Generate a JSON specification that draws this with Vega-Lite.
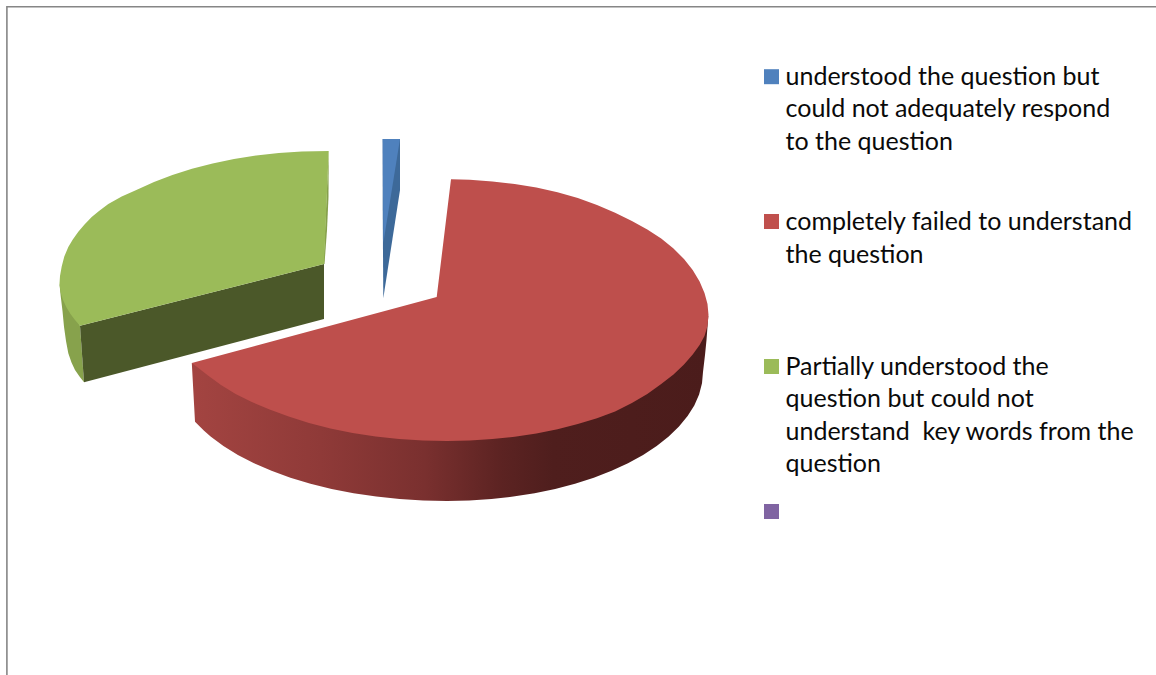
{
  "$schema": "https://vega.github.io/schema/vega-lite/v6.json",
  "width": 1156,
  "height": 675,
  "autosize": {"type": "none"},
  "padding": 0,
  "background": "#ffffff",
  "config": {"view": {"stroke": null}},
  "datasets": {
    "frame": [
      {"seq": 1, "x": 6.9, "y": 675},
      {"seq": 2, "x": 6.9, "y": 6.7},
      {"seq": 3, "x": 1156, "y": 6.7}
    ],
    "redWall": [
      {"seq": 1, "x": 191.8, "y": 363}, {"seq": 2, "x": 447, "y": 400}, {"seq": 3, "x": 708.3, "y": 316},
      {"seq": 4, "x": 706.5, "y": 340}, {"seq": 5, "x": 705, "y": 355}, {"seq": 6, "x": 703, "y": 372},
      {"seq": 7, "x": 702, "y": 383.2}, {"seq": 8, "x": 699.1, "y": 394.4}, {"seq": 9, "x": 694.3, "y": 405.4},
      {"seq": 10, "x": 687.6, "y": 416.1}, {"seq": 11, "x": 679, "y": 426.5}, {"seq": 12, "x": 668.7, "y": 436.5},
      {"seq": 13, "x": 656.7, "y": 446}, {"seq": 14, "x": 643.1, "y": 454.9}, {"seq": 15, "x": 628, "y": 463.2},
      {"seq": 16, "x": 611.6, "y": 470.8}, {"seq": 17, "x": 593.8, "y": 477.7}, {"seq": 18, "x": 575, "y": 483.7},
      {"seq": 19, "x": 555.2, "y": 488.9}, {"seq": 20, "x": 534.6, "y": 493.2}, {"seq": 21, "x": 513.3, "y": 496.6},
      {"seq": 22, "x": 491.5, "y": 499}, {"seq": 23, "x": 469.3, "y": 500.5}, {"seq": 24, "x": 447, "y": 501},
      {"seq": 25, "x": 423.2, "y": 500.5}, {"seq": 26, "x": 399.6, "y": 499}, {"seq": 27, "x": 376.3, "y": 496.6},
      {"seq": 28, "x": 353.6, "y": 493.2}, {"seq": 29, "x": 331.6, "y": 488.9}, {"seq": 30, "x": 310.5, "y": 483.7},
      {"seq": 31, "x": 290.4, "y": 477.7}, {"seq": 32, "x": 271.5, "y": 470.8}, {"seq": 33, "x": 254, "y": 463.2},
      {"seq": 34, "x": 237.9, "y": 454.9}, {"seq": 35, "x": 223.4, "y": 446}, {"seq": 36, "x": 210.6, "y": 436.5},
      {"seq": 37, "x": 203.8, "y": 430.6}, {"seq": 38, "x": 195, "y": 421.7}
    ],
    "faces": [
      {"part": "green wall", "seq": 1, "x": 59.5, "y": 284}, {"part": "green wall", "seq": 2, "x": 60.7, "y": 296},
      {"part": "green wall", "seq": 3, "x": 62.5, "y": 311}, {"part": "green wall", "seq": 4, "x": 64, "y": 326.7},
      {"part": "green wall", "seq": 5, "x": 66, "y": 341}, {"part": "green wall", "seq": 6, "x": 68.3, "y": 353.3},
      {"part": "green wall", "seq": 7, "x": 71.5, "y": 362.5}, {"part": "green wall", "seq": 8, "x": 75, "y": 370},
      {"part": "green wall", "seq": 9, "x": 79.5, "y": 376.5}, {"part": "green wall", "seq": 10, "x": 84, "y": 382.3},
      {"part": "green wall", "seq": 11, "x": 80, "y": 325.7},

      {"part": "green cut", "seq": 1, "x": 324, "y": 264}, {"part": "green cut", "seq": 2, "x": 80, "y": 325.7},
      {"part": "green cut", "seq": 3, "x": 84, "y": 382.3}, {"part": "green cut", "seq": 4, "x": 324, "y": 319},

      {"part": "green edge", "seq": 1, "x": 328.7, "y": 151}, {"part": "green edge", "seq": 2, "x": 328.5, "y": 197},
      {"part": "green edge", "seq": 3, "x": 327, "y": 230}, {"part": "green edge", "seq": 4, "x": 324.5, "y": 264},
      {"part": "green edge", "seq": 5, "x": 323.5, "y": 264},

      {"part": "green top", "seq": 1, "x": 324, "y": 264}, {"part": "green top", "seq": 2, "x": 80, "y": 325.7},
      {"part": "green top", "seq": 3, "x": 75, "y": 320}, {"part": "green top", "seq": 4, "x": 70.5, "y": 314},
      {"part": "green top", "seq": 5, "x": 66.5, "y": 307.5}, {"part": "green top", "seq": 6, "x": 63, "y": 300},
      {"part": "green top", "seq": 7, "x": 60.5, "y": 292}, {"part": "green top", "seq": 8, "x": 59.5, "y": 284},
      {"part": "green top", "seq": 9, "x": 60, "y": 276}, {"part": "green top", "seq": 10, "x": 61.7, "y": 266.5},
      {"part": "green top", "seq": 11, "x": 64.3, "y": 256.5}, {"part": "green top", "seq": 12, "x": 68.3, "y": 247},
      {"part": "green top", "seq": 13, "x": 72.8, "y": 239.5}, {"part": "green top", "seq": 14, "x": 78.3, "y": 231.7},
      {"part": "green top", "seq": 15, "x": 84.5, "y": 224.5}, {"part": "green top", "seq": 16, "x": 91.7, "y": 217},
      {"part": "green top", "seq": 17, "x": 99, "y": 211}, {"part": "green top", "seq": 18, "x": 108.3, "y": 204},
      {"part": "green top", "seq": 19, "x": 121.7, "y": 196.5}, {"part": "green top", "seq": 20, "x": 136.9, "y": 189.7},
      {"part": "green top", "seq": 21, "x": 154, "y": 181.9}, {"part": "green top", "seq": 22, "x": 172.4, "y": 174.9},
      {"part": "green top", "seq": 23, "x": 192, "y": 168.7}, {"part": "green top", "seq": 24, "x": 212.6, "y": 163.4},
      {"part": "green top", "seq": 25, "x": 234, "y": 159}, {"part": "green top", "seq": 26, "x": 256.2, "y": 155.5},
      {"part": "green top", "seq": 27, "x": 278.8, "y": 153}, {"part": "green top", "seq": 28, "x": 301.8, "y": 151.5},
      {"part": "green top", "seq": 29, "x": 328.7, "y": 151},

      {"part": "blue wall", "seq": 1, "x": 382.7, "y": 139}, {"part": "blue wall", "seq": 2, "x": 400, "y": 139},
      {"part": "blue wall", "seq": 3, "x": 400, "y": 190}, {"part": "blue wall", "seq": 4, "x": 383.3, "y": 298.3},
      {"part": "blue wall", "seq": 5, "x": 382.7, "y": 207},

      {"part": "blue top", "seq": 1, "x": 382.7, "y": 139}, {"part": "blue top", "seq": 2, "x": 400, "y": 139},
      {"part": "blue top", "seq": 3, "x": 383.3, "y": 243},

      {"part": "red top", "seq": 1, "x": 436.7, "y": 297}, {"part": "red top", "seq": 2, "x": 451, "y": 179.2},
      {"part": "red top", "seq": 3, "x": 469.8, "y": 179.8}, {"part": "red top", "seq": 4, "x": 492.4, "y": 181.5},
      {"part": "red top", "seq": 5, "x": 514.7, "y": 184}, {"part": "red top", "seq": 6, "x": 536.4, "y": 187.6},
      {"part": "red top", "seq": 7, "x": 557.5, "y": 192.2}, {"part": "red top", "seq": 8, "x": 577.8, "y": 198},
      {"part": "red top", "seq": 9, "x": 597, "y": 205}, {"part": "red top", "seq": 10, "x": 615.1, "y": 212.8},
      {"part": "red top", "seq": 11, "x": 631.9, "y": 221}, {"part": "red top", "seq": 12, "x": 647.3, "y": 229.5},
      {"part": "red top", "seq": 13, "x": 661.2, "y": 238.5}, {"part": "red top", "seq": 14, "x": 673.5, "y": 248.5},
      {"part": "red top", "seq": 15, "x": 684, "y": 259}, {"part": "red top", "seq": 16, "x": 692.7, "y": 270},
      {"part": "red top", "seq": 17, "x": 699.6, "y": 281.5}, {"part": "red top", "seq": 18, "x": 704.5, "y": 293},
      {"part": "red top", "seq": 19, "x": 707.5, "y": 304}, {"part": "red top", "seq": 20, "x": 708.5, "y": 315},
      {"part": "red top", "seq": 21, "x": 707.5, "y": 326}, {"part": "red top", "seq": 22, "x": 704.5, "y": 336},
      {"part": "red top", "seq": 23, "x": 699.6, "y": 345}, {"part": "red top", "seq": 24, "x": 692.7, "y": 354.5},
      {"part": "red top", "seq": 25, "x": 684, "y": 364.5}, {"part": "red top", "seq": 26, "x": 673.5, "y": 374.5},
      {"part": "red top", "seq": 27, "x": 661.2, "y": 384}, {"part": "red top", "seq": 28, "x": 647.3, "y": 394},
      {"part": "red top", "seq": 29, "x": 631.9, "y": 403}, {"part": "red top", "seq": 30, "x": 615.1, "y": 411.5},
      {"part": "red top", "seq": 31, "x": 597, "y": 418.2}, {"part": "red top", "seq": 32, "x": 577.8, "y": 424.1},
      {"part": "red top", "seq": 33, "x": 557.5, "y": 429.2}, {"part": "red top", "seq": 34, "x": 536.4, "y": 433.4},
      {"part": "red top", "seq": 35, "x": 514.7, "y": 436.7}, {"part": "red top", "seq": 36, "x": 492.4, "y": 439.1},
      {"part": "red top", "seq": 37, "x": 469.8, "y": 440.5}, {"part": "red top", "seq": 38, "x": 447, "y": 441},
      {"part": "red top", "seq": 39, "x": 423, "y": 440.5}, {"part": "red top", "seq": 40, "x": 399, "y": 439},
      {"part": "red top", "seq": 41, "x": 375.6, "y": 436.5}, {"part": "red top", "seq": 42, "x": 352.6, "y": 433},
      {"part": "red top", "seq": 43, "x": 330.4, "y": 428.5}, {"part": "red top", "seq": 44, "x": 309, "y": 423},
      {"part": "red top", "seq": 45, "x": 288.7, "y": 416.5}, {"part": "red top", "seq": 46, "x": 269.6, "y": 409.5},
      {"part": "red top", "seq": 47, "x": 251.8, "y": 402}, {"part": "red top", "seq": 48, "x": 235.6, "y": 394},
      {"part": "red top", "seq": 49, "x": 221, "y": 385}, {"part": "red top", "seq": 50, "x": 208, "y": 375.5},
      {"part": "red top", "seq": 51, "x": 199, "y": 368.5}, {"part": "red top", "seq": 52, "x": 191.8, "y": 363}
    ],
    "swatches": [
      {"series": "understood", "x": 771.5, "y": 76.7},
      {"series": "failed", "x": 771.5, "y": 221.5},
      {"series": "partial", "x": 771.5, "y": 366.5},
      {"series": "unnamed", "x": 771.5, "y": 511.5}
    ],
    "labels": [
      {"line": "understood the question but", "x": 785.5, "y": 84.8},
      {"line": "could not adequately respond", "x": 785.5, "y": 117.3},
      {"line": "to the question", "x": 785.5, "y": 149.8},
      {"line": "completely failed to understand", "x": 785.5, "y": 229.5},
      {"line": "the question", "x": 785.5, "y": 262.8},
      {"line": "Partially understood the", "x": 785.5, "y": 374.8},
      {"line": "question but could not", "x": 785.5, "y": 407.3},
      {"line": "understand\u00a0 key words from the", "x": 785.5, "y": 439.8},
      {"line": "question", "x": 785.5, "y": 472.3}
    ]
  },
  "encoding": {
    "x": {"field": "x", "type": "quantitative", "axis": null, "scale": {"domain": [0, 1156], "nice": false, "zero": false}},
    "y": {"field": "y", "type": "quantitative", "axis": null, "scale": {"domain": [675, 0], "nice": false, "zero": false}}
  },
  "layer": [
    {
      "data": {"name": "frame"},
      "mark": {"type": "line", "stroke": "#868686", "strokeWidth": 1.6},
      "encoding": {"order": {"field": "seq", "type": "quantitative"}}
    },
    {
      "data": {"name": "redWall"},
      "mark": {
        "type": "line",
        "strokeOpacity": 0,
        "fill": {
          "gradient": "linear", "x1": 0, "y1": 0, "x2": 1, "y2": 0,
          "stops": [
            {"offset": 0, "color": "#a34441"},
            {"offset": 0.25, "color": "#8f3a38"},
            {"offset": 0.45, "color": "#7a302f"},
            {"offset": 0.6, "color": "#5c2322"},
            {"offset": 0.7, "color": "#4f1e1d"},
            {"offset": 1, "color": "#4b1c1b"}
          ]
        }
      },
      "encoding": {"order": {"field": "seq", "type": "quantitative"}}
    },
    {
      "data": {"name": "faces"},
      "mark": {"type": "line", "strokeOpacity": 0},
      "encoding": {
        "order": {"field": "seq", "type": "quantitative"},
        "fill": {
          "field": "part",
          "type": "nominal",
          "legend": null,
          "scale": {
            "domain": ["green wall", "green cut", "green edge", "green top", "blue wall", "blue top", "red top"],
            "range": ["#87a24c", "#4b5829", "#86a04c", "#9bbb59", "#3d6999", "#4f81bd", "#be4f4c"]
          }
        }
      }
    },
    {
      "data": {"name": "swatches"},
      "mark": {"type": "point", "shape": "square", "filled": true, "size": 225, "opacity": 1},
      "encoding": {
        "color": {
          "field": "series",
          "type": "nominal",
          "legend": null,
          "scale": {
            "domain": ["understood", "failed", "partial", "unnamed"],
            "range": ["#4f81bd", "#c0504d", "#9bbb59", "#8064a2"]
          }
        }
      }
    },
    {
      "data": {"name": "labels"},
      "mark": {"type": "text", "align": "left", "baseline": "alphabetic", "font": "Lato", "fontSize": 25, "color": "#0a0a0a"},
      "encoding": {"text": {"field": "line", "type": "nominal"}}
    }
  ]
}
